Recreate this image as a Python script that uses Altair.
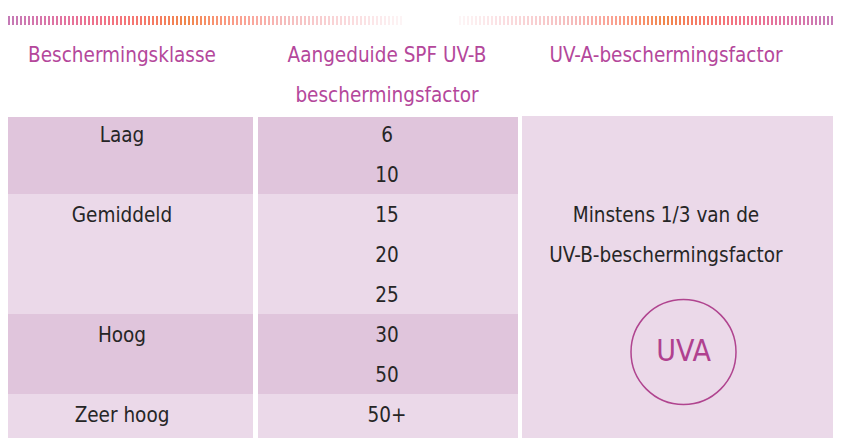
import altair as alt
import pandas as pd

# ---- data ----
classes = ["Laag", "Gemiddeld", "Hoog", "Zeer hoog"]
spf_values = ["6", "10", "15", "20", "25", "30", "50", "50+"]
spf_class = ["Laag", "Laag", "Gemiddeld", "Gemiddeld", "Gemiddeld", "Hoog", "Hoog", "Zeer hoog"]
header_col1 = ["Beschermingsklasse"]
header_col2 = ["Aangeduide SPF UV-B", "beschermingsfactor"]
header_col3 = ["UV-A-beschermingsfactor"]
uva_lines = ["Minstens 1/3 van de", "UV-B-beschermingsfactor"]
badge = ["UVA"]

# ---- layout / style ----
W, H = 825, 430
FONT = "DejaVu Sans Condensed, Roboto, sans-serif"
FS = 20.5
HEAD_C = "#b4479b"
TEXT_C = "#262626"
DARK, LIGHT = "#e0c5dc", "#ebd9e9"
COLS = {1: (0, 245, 114), 2: (250, 510, 379), 3: (514, W, 658)}
Y_TOP, Y_BOT = -2.65, 8.1
TABLE_TOP = 0.075
TEXT_OFF = 0.55

xs = alt.Scale(domain=[0, W], nice=False, zero=False)
ys = alt.Scale(domain=[Y_TOP, Y_BOT], nice=False, zero=False, reverse=True)

def X(f="x"):
    return alt.X(f"{f}:Q", scale=xs, axis=None)

def Y(f="y"):
    return alt.Y(f"{f}:Q", scale=ys, axis=None)

# blocks
blocks = []
start = 0
for i, c in enumerate(classes):
    n = spf_class.count(c)
    r0 = max(start, TABLE_TOP)
    r1 = start + n if i < len(classes) - 1 else Y_BOT
    for col in (1, 2):
        blocks.append(dict(x=COLS[col][0], x2=COLS[col][1], y=r0, y2=r1,
                           shade=i % 2))
    start += n
blocks_df = pd.DataFrame(blocks)

rect_layer = alt.Chart(blocks_df).mark_rect().encode(
    x=X("x"), x2="x2", y=Y("y"), y2="y2",
    color=alt.Color("shade:N", scale=alt.Scale(domain=[0, 1], range=[DARK, LIGHT]), legend=None),
)

col3_df = pd.DataFrame([dict(x=COLS[3][0], x2=COLS[3][1], y=TABLE_TOP - 0.025, y2=Y_BOT)])
col3_layer = alt.Chart(col3_df).mark_rect(color=LIGHT).encode(
    x=X("x"), x2="x2", y=Y("y"), y2="y2")

# class labels
cls_rows = []
start = 0
for c in classes:
    cls_rows.append(dict(x=COLS[1][2], y=start + TEXT_OFF, t=c))
    start += spf_class.count(c)
cls_layer = alt.Chart(pd.DataFrame(cls_rows)).mark_text(
    font=FONT, fontSize=FS, color=TEXT_C, align="center", baseline="middle"
).encode(x=X(), y=Y(), text="t:N")

spf_df = pd.DataFrame([dict(x=COLS[2][2], y=k + TEXT_OFF, t=v) for k, v in enumerate(spf_values)])
spf_layer = alt.Chart(spf_df).mark_text(
    font=FONT, fontSize=FS, color=TEXT_C, align="center", baseline="middle"
).encode(x=X(), y=Y(), text="t:N")

# headers
head_rows = []
for col, lines in ((1, header_col1), (2, header_col2), (3, header_col3)):
    for i, l in enumerate(lines):
        head_rows.append(dict(x=COLS[col][2], y=-2 + i + TEXT_OFF, t=l))
head_layer = alt.Chart(pd.DataFrame(head_rows)).mark_text(
    font=FONT, fontSize=FS, color=HEAD_C, align="center", baseline="middle"
).encode(x=X(), y=Y(), text="t:N")

uva_df = pd.DataFrame([dict(x=COLS[3][2], y=2 + i + TEXT_OFF, t=l) for i, l in enumerate(uva_lines)])
uva_layer = alt.Chart(uva_df).mark_text(
    font=FONT, fontSize=FS, color=TEXT_C, align="center", baseline="middle"
).encode(x=X(), y=Y(), text="t:N")

badge_df = pd.DataFrame([dict(x=675.5, y=5.95, t=badge[0])])
circle_layer = alt.Chart(badge_df).mark_point(
    shape="circle", size=105 ** 2, filled=False, color="#b0448f", strokeWidth=1.5, opacity=1
).encode(x=X(), y=Y())
badge_layer = alt.Chart(badge_df).mark_text(
    font=FONT, fontSize=30, color="#b0418f", align="center", baseline="middle"
).encode(x=X(), y=Y(), text="t:N")

# decorative dashed stripe at top
dashes = []
for i in range(99):
    x = 1 + i * 4
    dashes.append(dict(x=x, t=x / 396))
for i in range(94):
    x = W - 1 - i * 4
    dashes.append(dict(x=x, t=(W - x) / 373))
dash_df = pd.DataFrame(dashes)
dash_df["y"] = -2.45
dash_df["y2"] = -2.225
stripe_layer = alt.Chart(dash_df).mark_rule(strokeWidth=2).encode(
    x=X(), y=Y("y"), y2="y2",
    color=alt.Color("t:Q", scale=alt.Scale(domain=[0, 0.45, 0.7, 1.0],
                                           range=["#c47ab6", "#f0864c", "#f5bcbc", "#fdf5f6"]),
                    legend=None),
)

chart = alt.layer(
    stripe_layer, rect_layer, col3_layer, head_layer, cls_layer, spf_layer,
    uva_layer, circle_layer, badge_layer
).properties(width=W, height=H, padding=0, background="white").configure_view(stroke=None)

chart.save("out.html", embed_options={"renderer": "svg", "actions": False})
